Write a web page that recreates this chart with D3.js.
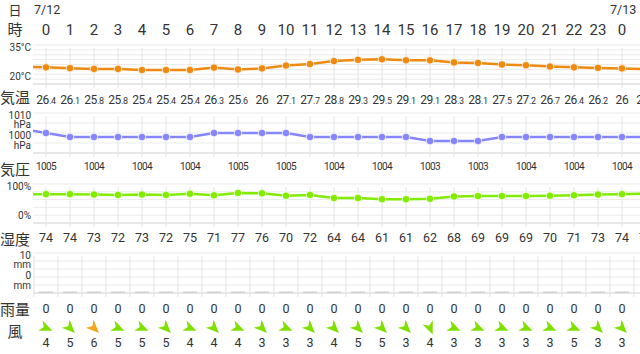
<!DOCTYPE html>
<html><head><meta charset="utf-8">
<script src="https://cdn.jsdelivr.net/npm/d3@7"></script>
<style>
body{margin:0;background:#fff}
text{font-family:Roboto,"Noto Sans CJK JP",sans-serif;fill:#333}
</style>
</head><body><div id="chart"></div>
<script>
const WIDTH = 640, HEIGHT = 354

// slot -1 is 23時 of the previous day, slot 25 is 1時 of 7/13 (cut off at the edge)
const slots = d3.range(-1, 26)
const hourLabels = ["23","0","1","2","3","4","5","6","7","8","9","10","11","12","13","14","15","16","17","18","19","20","21","22","23","0","1"]
const dates = [{ slot: 0, label: "7/12" }, { slot: 24, label: "7/13" }]

const temps = [26.6, 26.4, 26.1, 25.8, 25.8, 25.4, 25.4, 25.4, 26.3, 25.6, 26, 27.1, 27.7, 28.8, 29.3, 29.5, 29.1, 29.1, 28.3, 28.1, 27.5, 27.2, 26.7, 26.4, 26.2, 26, 25.7]
const pressures = [1006, 1005, 1004, 1004, 1004, 1004, 1004, 1004, 1005, 1005, 1005, 1005, 1004, 1004, 1004, 1004, 1004, 1003, 1003, 1003, 1004, 1004, 1004, 1004, 1004, 1004, 1004]
const humidity = [74, 74, 74, 73, 72, 73, 72, 75, 71, 77, 76, 70, 72, 64, 64, 61, 61, 62, 68, 69, 69, 69, 70, 71, 73, 74, 75]
const rain = [0, 0, 0, 0, 0, 0, 0, 0, 0, 0, 0, 0, 0, 0, 0, 0, 0, 0, 0, 0, 0, 0, 0, 0, 0, 0, 0]
const windSpeed = [null, 4, 5, 6, 5, 5, 5, 4, 4, 4, 3, 3, 3, 4, 5, 5, 3, 4, 3, 3, 3, 3, 3, 5, 3, 3, null]
const windDir = [null, "WNW", "NW", "NW", "WNW", "WNW", "NW", "WNW", "NW", "WNW", "NW", "WNW", "NW", "NW", "NW", "NW", "NW", "NNW", "WNW", "WNW", "WNW", "WNW", "WNW", "WNW", "NW", "NW", null]
const compass = ["N","NNE","NE","ENE","E","ESE","SE","SSE","S","SSW","SW","WSW","W","WNW","NW","NNW"]

const rowLabels = [
  { text: "日", y: 10, size: 13 },
  { text: "時", y: 30, size: 15 },
  { text: "気温", y: 98, size: 15 },
  { text: "気圧", y: 170, size: 15 },
  { text: "湿度", y: 240, size: 15 },
  { text: "雨量", y: 310, size: 15 },
  { text: "風", y: 332, size: 15 }
]

const svg = d3.select("#chart").append("svg")
  .attr("width", WIDTH)
  .attr("height", HEIGHT)

const x = d3.scaleLinear().domain([0, 24]).range([46, 622])
const step = x(1) - x(0)
const PLOT_LEFT = 33

svg.append("clipPath").attr("id", "plotclip")
  .append("rect").attr("x", PLOT_LEFT).attr("y", 0).attr("width", WIDTH - PLOT_LEFT).attr("height", HEIGHT)

// row labels
svg.selectAll(".rowlabel")
  .data(rowLabels)
  .join("text")
  .attr("x", 15)
  .attr("y", d => d.y)
  .attr("dy", "0.35em")
  .attr("text-anchor", "middle")
  .style("font-size", d => d.size + "px")
  .text(d => d.text)

// dates + hours
svg.selectAll(".date")
  .data(dates)
  .join("text")
  .attr("x", d => x(d.slot) - step / 2)
  .attr("y", 10)
  .attr("dy", "0.35em")
  .style("font-size", "12.5px")
  .text(d => d.label)

svg.selectAll(".hour")
  .data(slots.filter(s => s >= 0))
  .join("text")
  .attr("x", s => x(s))
  .attr("y", 30)
  .attr("dy", "0.35em")
  .attr("text-anchor", "middle")
  .style("font-size", "15px")
  .text(s => hourLabels[s + 1])

// draws grid of one panel and returns its y scale
function panel(top, bottom, domain, nLines, labelTop, labelBottom, between) {
  const y = d3.scaleLinear().domain(domain).range([bottom, top])
  const g = svg.append("g")
  g.selectAll("line.h")
    .data(d3.range(nLines + 1))
    .join("line")
    .attr("x1", PLOT_LEFT).attr("x2", WIDTH)
    .attr("y1", k => top + (bottom - top) * k / nLines)
    .attr("y2", k => top + (bottom - top) * k / nLines)
    .attr("stroke", k => k === nLines ? "#d0d0d0" : "#ebebeb")
  const vx = between ? d3.range(0, 26).map(s => x(s) - step / 2) : d3.range(0, 26).map(s => x(s))
  g.selectAll("line.v")
    .data(vx)
    .join("line")
    .attr("x1", d => d).attr("x2", d => d)
    .attr("y1", top + 3).attr("y2", bottom + 4)
    .attr("stroke", "#e2e2e2")
  // axis captions: top one hangs from the top line, bottom one sits on the bottom line
  const lh = 9.5
  const lt = g.append("text").attr("text-anchor", "end").style("font-size", "10px")
  labelTop.forEach((s, k) => lt.append("tspan").attr("x", 31).attr("y", top + 2 + k * lh).attr("dy", "0.35em").text(s))
  const lb = g.append("text").attr("text-anchor", "end").style("font-size", "10px")
  labelBottom.forEach((s, k) => lb.append("tspan").attr("x", 31).attr("y", bottom - 8 - (labelBottom.length - 1 - k) * lh).attr("dy", "0.35em").text(s))
  return y
}

function lineSeries(values, y, color) {
  const pts = slots.map((s, k) => [x(s), y(values[k])])
  const g = svg.append("g").attr("clip-path", "url(#plotclip)")
  g.append("path")
    .attr("d", d3.line()(pts))
    .attr("fill", "none")
    .attr("stroke", color)
    .attr("stroke-width", 2.5)
  g.selectAll("circle")
    .data(pts.filter((p, k) => slots[k] >= 0 && slots[k] <= 24))
    .join("circle")
    .attr("cx", p => p[0]).attr("cy", p => p[1])
    .attr("r", 3.8)
    .attr("fill", color)
    .attr("stroke", "#fff")
    .attr("stroke-width", 0.8)
}

// temperature
const yT = panel(45, 84, [20, 35], 8, ["35°C"], ["20°C"], false)
lineSeries(temps, yT, "#f0890f")
slots.forEach((s, k) => {
  if (s < 0) return
  const t = svg.append("text")
    .attr("x", x(s)).attr("y", 98).attr("dy", "0.35em")
    .attr("text-anchor", "middle")
    .style("letter-spacing", "-0.3px")
  const parts = String(temps[k]).split(".")
  t.append("tspan").style("font-size", "12px").text(parts[0])
  if (parts[1]) t.append("tspan").style("font-size", "9px").text("." + parts[1])
})

// pressure
const yP = panel(113, 153, [1000, 1010], 4, ["1010", "hPa"], ["1000", "hPa"], false)
lineSeries(pressures, yP, "#8585ff")
svg.selectAll(".plabel")
  .data(slots.map((s, k) => ({ s, v: pressures[k] })).filter(d => d.s >= 0 && d.s <= 24 && d.s % 2 === 0))
  .join("text")
  .attr("x", d => x(d.s)).attr("y", 166).attr("dy", "0.35em")
  .attr("text-anchor", "middle")
  .style("font-size", "10px")
  .style("letter-spacing", "-0.6px")
  .text(d => d.v)

// humidity
const yH = panel(184, 223, [0, 100], 5, ["100%"], ["0%"], false)
lineSeries(humidity, yH, "#80ec00")
svg.selectAll(".hlabel")
  .data(slots.map((s, k) => ({ s, v: humidity[k] })).filter(d => d.s >= 0))
  .join("text")
  .attr("x", d => x(d.s)).attr("y", 238).attr("dy", "0.35em")
  .attr("text-anchor", "middle")
  .style("font-size", "12.5px")
  .text(d => d.v)

// rain
const yR = panel(253, 293, [0, 10], 5, ["10", "mm"], ["0", "mm"], true)
const rainData = slots.map((s, k) => ({ s, v: rain[k] })).filter(d => d.s >= 0 && d.s <= 24)
svg.selectAll(".rbar")
  .data(rainData)
  .join("rect")
  .attr("x", d => x(d.s) - 7)
  .attr("width", 14)
  .attr("y", d => Math.min(yR(d.v), yR(0) - 1.5))
  .attr("height", d => Math.max(yR(0) - yR(d.v), 1.5))
  .attr("fill", "#d0d0d0")
svg.selectAll(".rlabel")
  .data(rainData)
  .join("text")
  .attr("x", d => x(d.s)).attr("y", 309).attr("dy", "0.35em")
  .attr("text-anchor", "middle")
  .style("font-size", "12.5px")
  .text(d => d.v)

// wind
const windColor = d3.scaleThreshold().domain([6]).range(["#7fe000", "#f7a51c"])
const windData = slots.map((s, k) => ({ s, v: windSpeed[k], dir: windDir[k] })).filter(d => d.v != null)
svg.selectAll(".arrow")
  .data(windData)
  .join("path")
  .attr("d", "M7,0 L-6,-5.5 L-2.5,0 L-6,5.5 Z")
  .attr("fill", d => windColor(d.v))
  .attr("transform", d => {
    const from = compass.indexOf(d.dir) * 22.5
    return `translate(${x(d.s)},328) rotate(${from + 180 - 90})`
  })
svg.selectAll(".wlabel")
  .data(windData)
  .join("text")
  .attr("x", d => x(d.s)).attr("y", 343).attr("dy", "0.35em")
  .attr("text-anchor", "middle")
  .style("font-size", "12.5px")
  .text(d => d.v)
</script>
</body></html>
